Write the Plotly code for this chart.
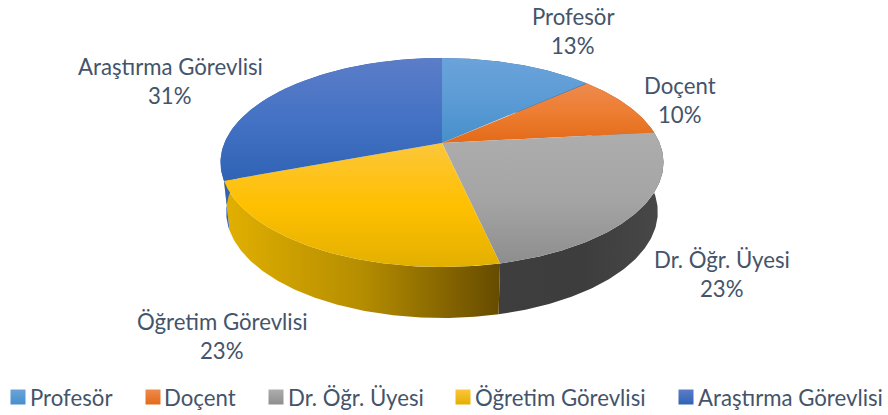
import numpy as np
import plotly.graph_objects as go

labels = ["Profesör", "Doçent", "Dr. Öğr. Üyesi", "Öğretim Görevlisi", "Araştırma Görevlisi"]
values = [13.4, 9.9, 23.2, 22.8, 30.7]

top_colors = [
    ["#6ba3da", "#5b9bd5", "#468fcb"],
    ["#ee8a4d", "#ed7d31", "#e36a18"],
    ["#adadad", "#a5a5a5", "#8e8e8e"],
    ["#fcc63a", "#ffc000", "#e3b000"],
    ["#5c7dc8", "#4472c4", "#2f63b5"],
]
wall_colors = [
    ["#3f6f9c", "#3f6f9c"],
    ["#a85522", "#a85522"],
    ["#3e3e3e", "#3d3d3d", "#484848"],
    ["#e2b000", "#b58d00", "#664b00"],
    ["#2f63b5", "#2f63b5"],
]

# where the labels and the legend sit, in picture pixels
label_pos = [(573, 16), (680, 85), (722, 259), (222, 321), (170, 66)]
line_step = 29
legend_swatch_x = [18, 153, 276, 463, 686]
legend_text_x = [27.5, 162, 285.5, 472.5, 695.5]
legend_y = 397

font_name = "Lato"
font_size = 22.2
text_color = "#44546a"

# perspective disc: top face and bottom face of the pie
CX = 442
TOP = dict(y0=143, a=217.6, b=100.9, k=-0.1866)
BOTTOM = dict(y0=192.2, a=212.0, b=102.3, k=-0.1866)


def project(angle, face):
    # angle in degrees clockwise from 12 o'clock
    u = np.sin(np.radians(angle))
    v = -np.cos(np.radians(angle))
    w = 1 + face["k"] * v
    return CX + face["a"] * u / w, face["y0"] + face["b"] * v / w


fig = go.Figure()

shares = np.array(values) / sum(values) * 360
ends = np.cumsum(shares)
starts = ends - shares

# walls first, the faces are painted over them
for i in range(len(values)):
    angles = np.linspace(starts[i], ends[i], 120)
    tx, ty = project(angles, TOP)
    bx, by = project(angles[::-1], BOTTOM)
    colors = wall_colors[i]
    fig.add_trace(go.Scatter(
        x=np.r_[tx, bx, tx[0]], y=np.r_[ty, by, ty[0]],
        mode="lines", line=dict(width=0), fill="toself",
        fillgradient=dict(
            type="horizontal",
            colorscale=[[j / (len(colors) - 1), c] for j, c in enumerate(colors)],
        ),
        hoverinfo="skip", showlegend=False,
    ))

for i in range(len(values)):
    angles = np.linspace(starts[i], ends[i], 120)
    tx, ty = project(angles, TOP)
    colors = top_colors[i]
    # the y axis is flipped, so the scale runs from the bottom colour up
    fig.add_trace(go.Scatter(
        x=np.r_[CX, tx, CX], y=np.r_[TOP["y0"], ty, TOP["y0"]],
        mode="lines", line=dict(width=0), fill="toself",
        fillgradient=dict(
            type="vertical",
            colorscale=[[j / 2, c] for j, c in enumerate(colors[::-1])],
        ),
        name=labels[i], showlegend=False,
    ))

# legend swatches
for i in range(len(values)):
    fig.add_trace(go.Scatter(
        x=[legend_swatch_x[i]], y=[legend_y],
        mode="markers",
        marker=dict(symbol="square", size=15, color=top_colors[i][0], line=dict(width=0),
                    gradient=dict(type="vertical", color=top_colors[i][2])),
        hoverinfo="skip", showlegend=False,
    ))

annotations = []
for i, name in enumerate(labels):
    x, y = label_pos[i]
    for text, yy in ((name, y), (f"{round(values[i])}%", y + line_step)):
        annotations.append(dict(x=x, y=yy, text=text, showarrow=False,
                                xanchor="center", yanchor="middle"))
    annotations.append(dict(x=legend_text_x[i], y=legend_y, text=name, showarrow=False,
                            xanchor="left", yanchor="middle"))

fig.update_layout(
    width=888, height=415,
    margin=dict(l=0, r=0, t=0, b=0),
    paper_bgcolor="white", plot_bgcolor="white",
    font=dict(family=font_name, size=font_size, color=text_color),
    annotations=annotations,
    xaxis=dict(range=[0, 888], visible=False, fixedrange=True),
    yaxis=dict(range=[415, 0], visible=False, fixedrange=True),
    showlegend=False,
)

# the page's default body margin would push the figure 8px down and right
fig.write_html("out.html", config=dict(displayModeBar=False),
               post_script="document.body.style.margin='0';")
